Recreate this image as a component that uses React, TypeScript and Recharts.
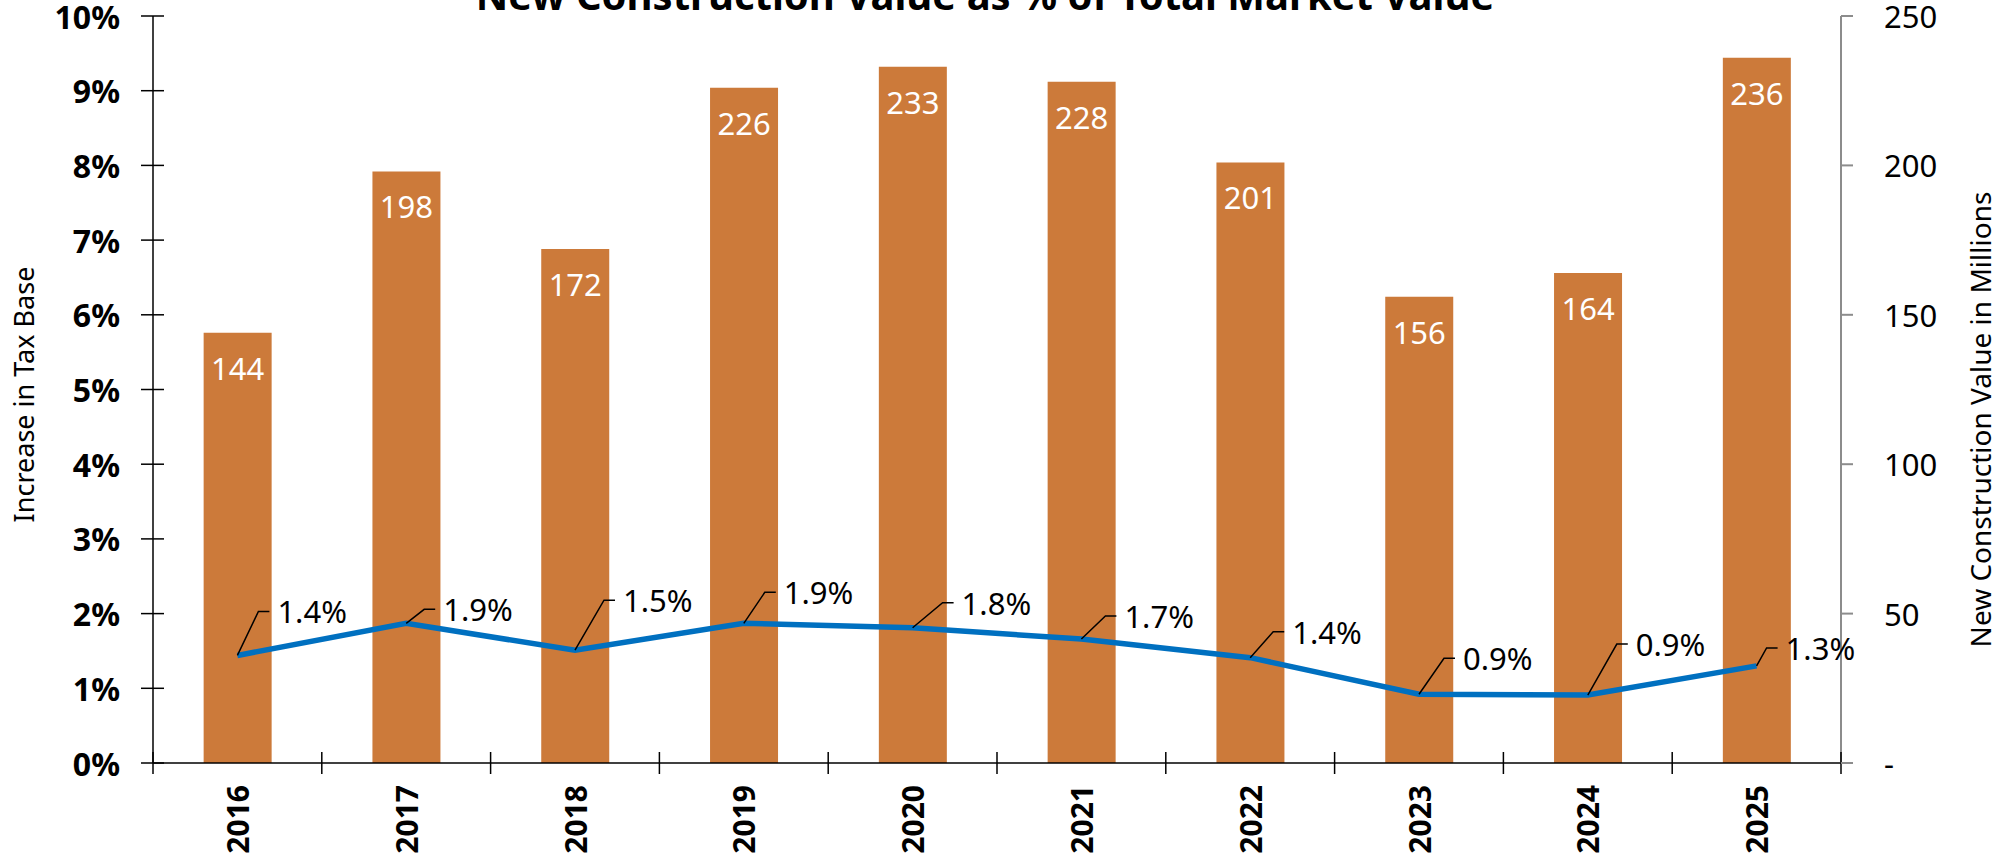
import { ComposedChart, Bar, Line, XAxis, YAxis, LabelList, Label } from 'recharts';

const years = ['2016', '2017', '2018', '2019', '2020', '2021', '2022', '2023', '2024', '2025'];
// new construction value, $ millions (bars, right axis)
const newConstruction = [144, 198, 172, 226, 233, 228, 201, 156, 164, 236];
// increase in tax base, % (line, left axis)
const taxBaseIncrease = [1.44, 1.87, 1.51, 1.87, 1.81, 1.66, 1.41, 0.92, 0.91, 1.3];
const pctTicks = [0, 1, 2, 3, 4, 5, 6, 7, 8, 9, 10];
const millionTicks = [0, 50, 100, 150, 200, 250];

// leader line offsets for the % labels (layout only)
const leaderOffsets = [
  [21, -44], [18, -14], [29, -50], [21, -31], [30, -25],
  [24, -23], [23, -26], [25, -36], [29, -51], [10, -18],
];

const data = years.map((year, i) => ({
  year,
  value: newConstruction[i],
  pct: taxBaseIncrease[i],
}));

const W = 1997;
const H = 853;
const LEFT_W = 153;
const RIGHT_W = 156;
const BAND = (W - LEFT_W - RIGHT_W) / years.length;
const FONT = '"Noto Sans", "Open Sans", sans-serif';

const YearTick = (props: any) => {
  const { x, y, payload, index } = props;
  return (
    <g>
      {index === 0 && (
        <line x1={x - BAND / 2} x2={x - BAND / 2} y1={y - 11} y2={y + 11} stroke="#000" strokeWidth={1.5} />
      )}
      <line x1={x + BAND / 2} x2={x + BAND / 2} y1={y - 11} y2={y + 11} stroke="#000" strokeWidth={1.5} />
      <text
        x={x}
        y={y + 22}
        transform={`rotate(-90, ${x}, ${y + 22})`}
        textAnchor="end"
        dominantBaseline="central"
        fontFamily={FONT}
        fontWeight={700}
        fontSize={30}
        fill="#000"
      >
        {payload.value}
      </text>
    </g>
  );
};

const PctTick = (props: any) => {
  const { x, y, payload } = props;
  return (
    <g>
      <line x1={x - 12} x2={x + 11} y1={y} y2={y} stroke="#000" strokeWidth={1.5} />
      <text
        x={x - 33}
        y={y}
        textAnchor="end"
        dominantBaseline="central"
        fontFamily={FONT}
        fontWeight={700}
        fontSize={32}
        fill="#000"
      >
        {payload.value}%
      </text>
    </g>
  );
};

const MillionTick = (props: any) => {
  const { x, y, payload } = props;
  return (
    <g>
      <line x1={x} x2={x + 12} y1={y} y2={y} stroke="#8c8c8c" strokeWidth={2} />
      <text
        x={x + 43}
        y={y}
        textAnchor="start"
        dominantBaseline="central"
        fontFamily={FONT}
        fontSize={31}
        fill="#000"
      >
        {payload.value === 0 ? '-' : payload.value}
      </text>
    </g>
  );
};

const BarValueLabel = (props: any) => {
  const { x, y, width, value } = props;
  return (
    <text
      x={x + width / 2}
      y={y + 47}
      textAnchor="middle"
      fontFamily={FONT}
      fontSize={31}
      fill="#fff"
    >
      {value}
    </text>
  );
};

const PctLabel = (props: any) => {
  const { x, y, value, index } = props;
  const [dx, dy] = leaderOffsets[index] || [20, -30];
  const ex = x + dx;
  const ey = y + dy;
  return (
    <g>
      <polyline
        points={`${x},${y} ${ex},${ey} ${ex + 11},${ey}`}
        fill="none"
        stroke="#000"
        strokeWidth={1.5}
      />
      <text
        x={ex + 19}
        y={ey}
        textAnchor="start"
        dominantBaseline="central"
        fontFamily={FONT}
        fontSize={31}
        fill="#000"
      >
        {Number(value).toFixed(1)}%
      </text>
    </g>
  );
};

export default function App() {
  return (
    <div style={{ position: 'absolute', left: 0, top: 0, width: W, height: H, background: '#fff' }}>
      <ComposedChart
        width={W}
        height={H}
        data={data}
        margin={{ top: 16, right: 0, bottom: 0, left: 0 }}
        barCategoryGap="30%"
      >
        <XAxis
          dataKey="year"
          height={90}
          interval={0}
          tickSize={0}
          tickMargin={0}
          tickLine={false}
          axisLine={{ stroke: '#000', strokeWidth: 1.5 }}
          tick={YearTick}
        />
        <YAxis
          yAxisId="pct"
          orientation="left"
          width={LEFT_W}
          domain={[0, 10]}
          ticks={pctTicks}
          interval={0}
          tickSize={0}
          tickMargin={0}
          tickLine={false}
          axisLine={{ stroke: '#000', strokeWidth: 1.5 }}
          tick={PctTick}
        >
          <Label
            value="Increase in Tax Base"
            angle={-90}
            position="center"
            dx={-52}
            dy={5}
            style={{ fontFamily: FONT, fontSize: 27, fill: '#000' }}
          />
        </YAxis>
        <YAxis
          yAxisId="mil"
          orientation="right"
          width={RIGHT_W}
          domain={[0, 250]}
          ticks={millionTicks}
          interval={0}
          tickSize={0}
          tickMargin={0}
          tickLine={false}
          axisLine={{ stroke: '#8c8c8c', strokeWidth: 2 }}
          tick={MillionTick}
        >
          <Label
            value="New Construction Value in Millions"
            angle={-90}
            position="center"
            dx={62}
            dy={30}
            style={{ fontFamily: FONT, fontSize: 28, fill: '#000' }}
          />
        </YAxis>
        <Bar yAxisId="mil" dataKey="value" fill="#CC7A3A" isAnimationActive={false}>
          <LabelList dataKey="value" content={BarValueLabel} />
        </Bar>
        <Line
          yAxisId="pct"
          type="linear"
          dataKey="pct"
          stroke="#0070C0"
          strokeWidth={5.5}
          dot={false}
          activeDot={false}
          isAnimationActive={false}
        >
          <LabelList dataKey="pct" content={PctLabel} />
        </Line>
      </ComposedChart>
      <svg
        width={W}
        height={60}
        style={{ position: 'absolute', left: 0, top: 0, pointerEvents: 'none' }}
      >
        <text
          x={985}
          y={10}
          textAnchor="middle"
          fontFamily={FONT}
          fontWeight={700}
          fontSize={40}
          fill="#000"
        >
          New Construction Value as % of Total Market Value
        </text>
      </svg>
    </div>
  );
}
